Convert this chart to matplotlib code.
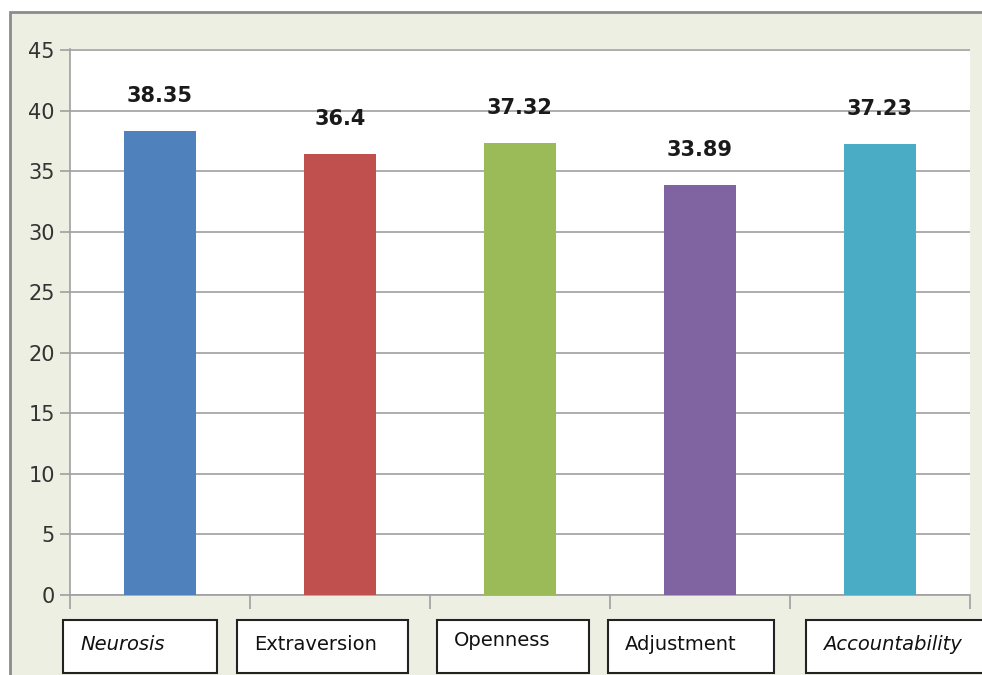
import matplotlib.pyplot as plt
from matplotlib.patches import Rectangle
import numpy as np

# data
categories = ["Neurosis", "Extraversion", "Openness", "Adjustment", "Accountability"]
values = [38.35, 36.4, 37.32, 33.89, 37.23]
value_labels = ["38.35", "36.4", "37.32", "33.89", "37.23"]
colors = ["#4F81BD", "#C0504D", "#9BBB59", "#8064A2", "#4BACC6"]
yticks = [0, 5, 10, 15, 20, 25, 30, 35, 40, 45]

W, H = 982, 675
fig = plt.figure(figsize=(W / 100, H / 100), dpi=100)
fig.patch.set_facecolor("white")

# beige chart frame
frame = Rectangle((10 / W, -0.01), 1, 1 - 12 / H + 0.01, transform=fig.transFigure,
                  facecolor="#ECEFE1", edgecolor="#8C8C8C", linewidth=2, zorder=-5)
fig.patches.append(frame)

ax = fig.add_axes([70 / W, 80 / H, 900 / W, 546 / H])
ax.set_zorder(2)
ax.set_facecolor("white")

x = np.arange(len(categories))
ax.bar(x, values, width=0.4, color=colors, zorder=3)
ax.set_xlim(-0.5, len(categories) - 0.5)
ax.set_ylim(0, 45.08)

for xi, v, lab in zip(x, values, value_labels):
    ax.annotate(lab, (xi, v), xytext=(0, 25), textcoords="offset points",
                ha="center", va="center", fontsize=15, fontweight="bold",
                color="#1a1a1a", zorder=4)

ax.set_yticks(yticks)
ax.set_yticklabels([str(t) for t in yticks], fontsize=15, color="#333333")
ax.yaxis.grid(True, color="#A0A0A0", linewidth=1.2, zorder=0)
ax.set_axisbelow(True)
ax.tick_params(axis="y", length=7, color="#A0A0A0", width=1.2, pad=4)

# category boundary ticks only
ax.set_xticks(np.arange(len(categories) + 1) - 0.5)
ax.set_xticklabels([])
ax.tick_params(axis="x", length=10, color="#A0A0A0", width=1.2)

for s in ["top", "right"]:
    ax.spines[s].set_visible(False)
for s in ["left", "bottom"]:
    ax.spines[s].set_color("#A0A0A0")
    ax.spines[s].set_linewidth(1.2)

# category labels in boxes
boxes = [(63, 217), (237, 408), (437, 589), (608, 774), (806, 985)]
styles = ["italic", "normal", "normal", "normal", "italic"]
text_y = [645, 645, 640, 645, 645]
for (x0, x1), cat, st, ty in zip(boxes, categories, styles, text_y):
    r = Rectangle((x0 / W, (H - 673) / H), (x1 - x0) / W, 53 / H,
                  transform=fig.transFigure, facecolor="white",
                  edgecolor="#222222", linewidth=1.5, zorder=5)
    fig.patches.append(r)
    fig.text((x0 + 17) / W, (H - ty) / H, cat, fontsize=14, style=st,
             ha="left", va="center", color="#111111", zorder=6)

fig.savefig("out.png", dpi=100)
